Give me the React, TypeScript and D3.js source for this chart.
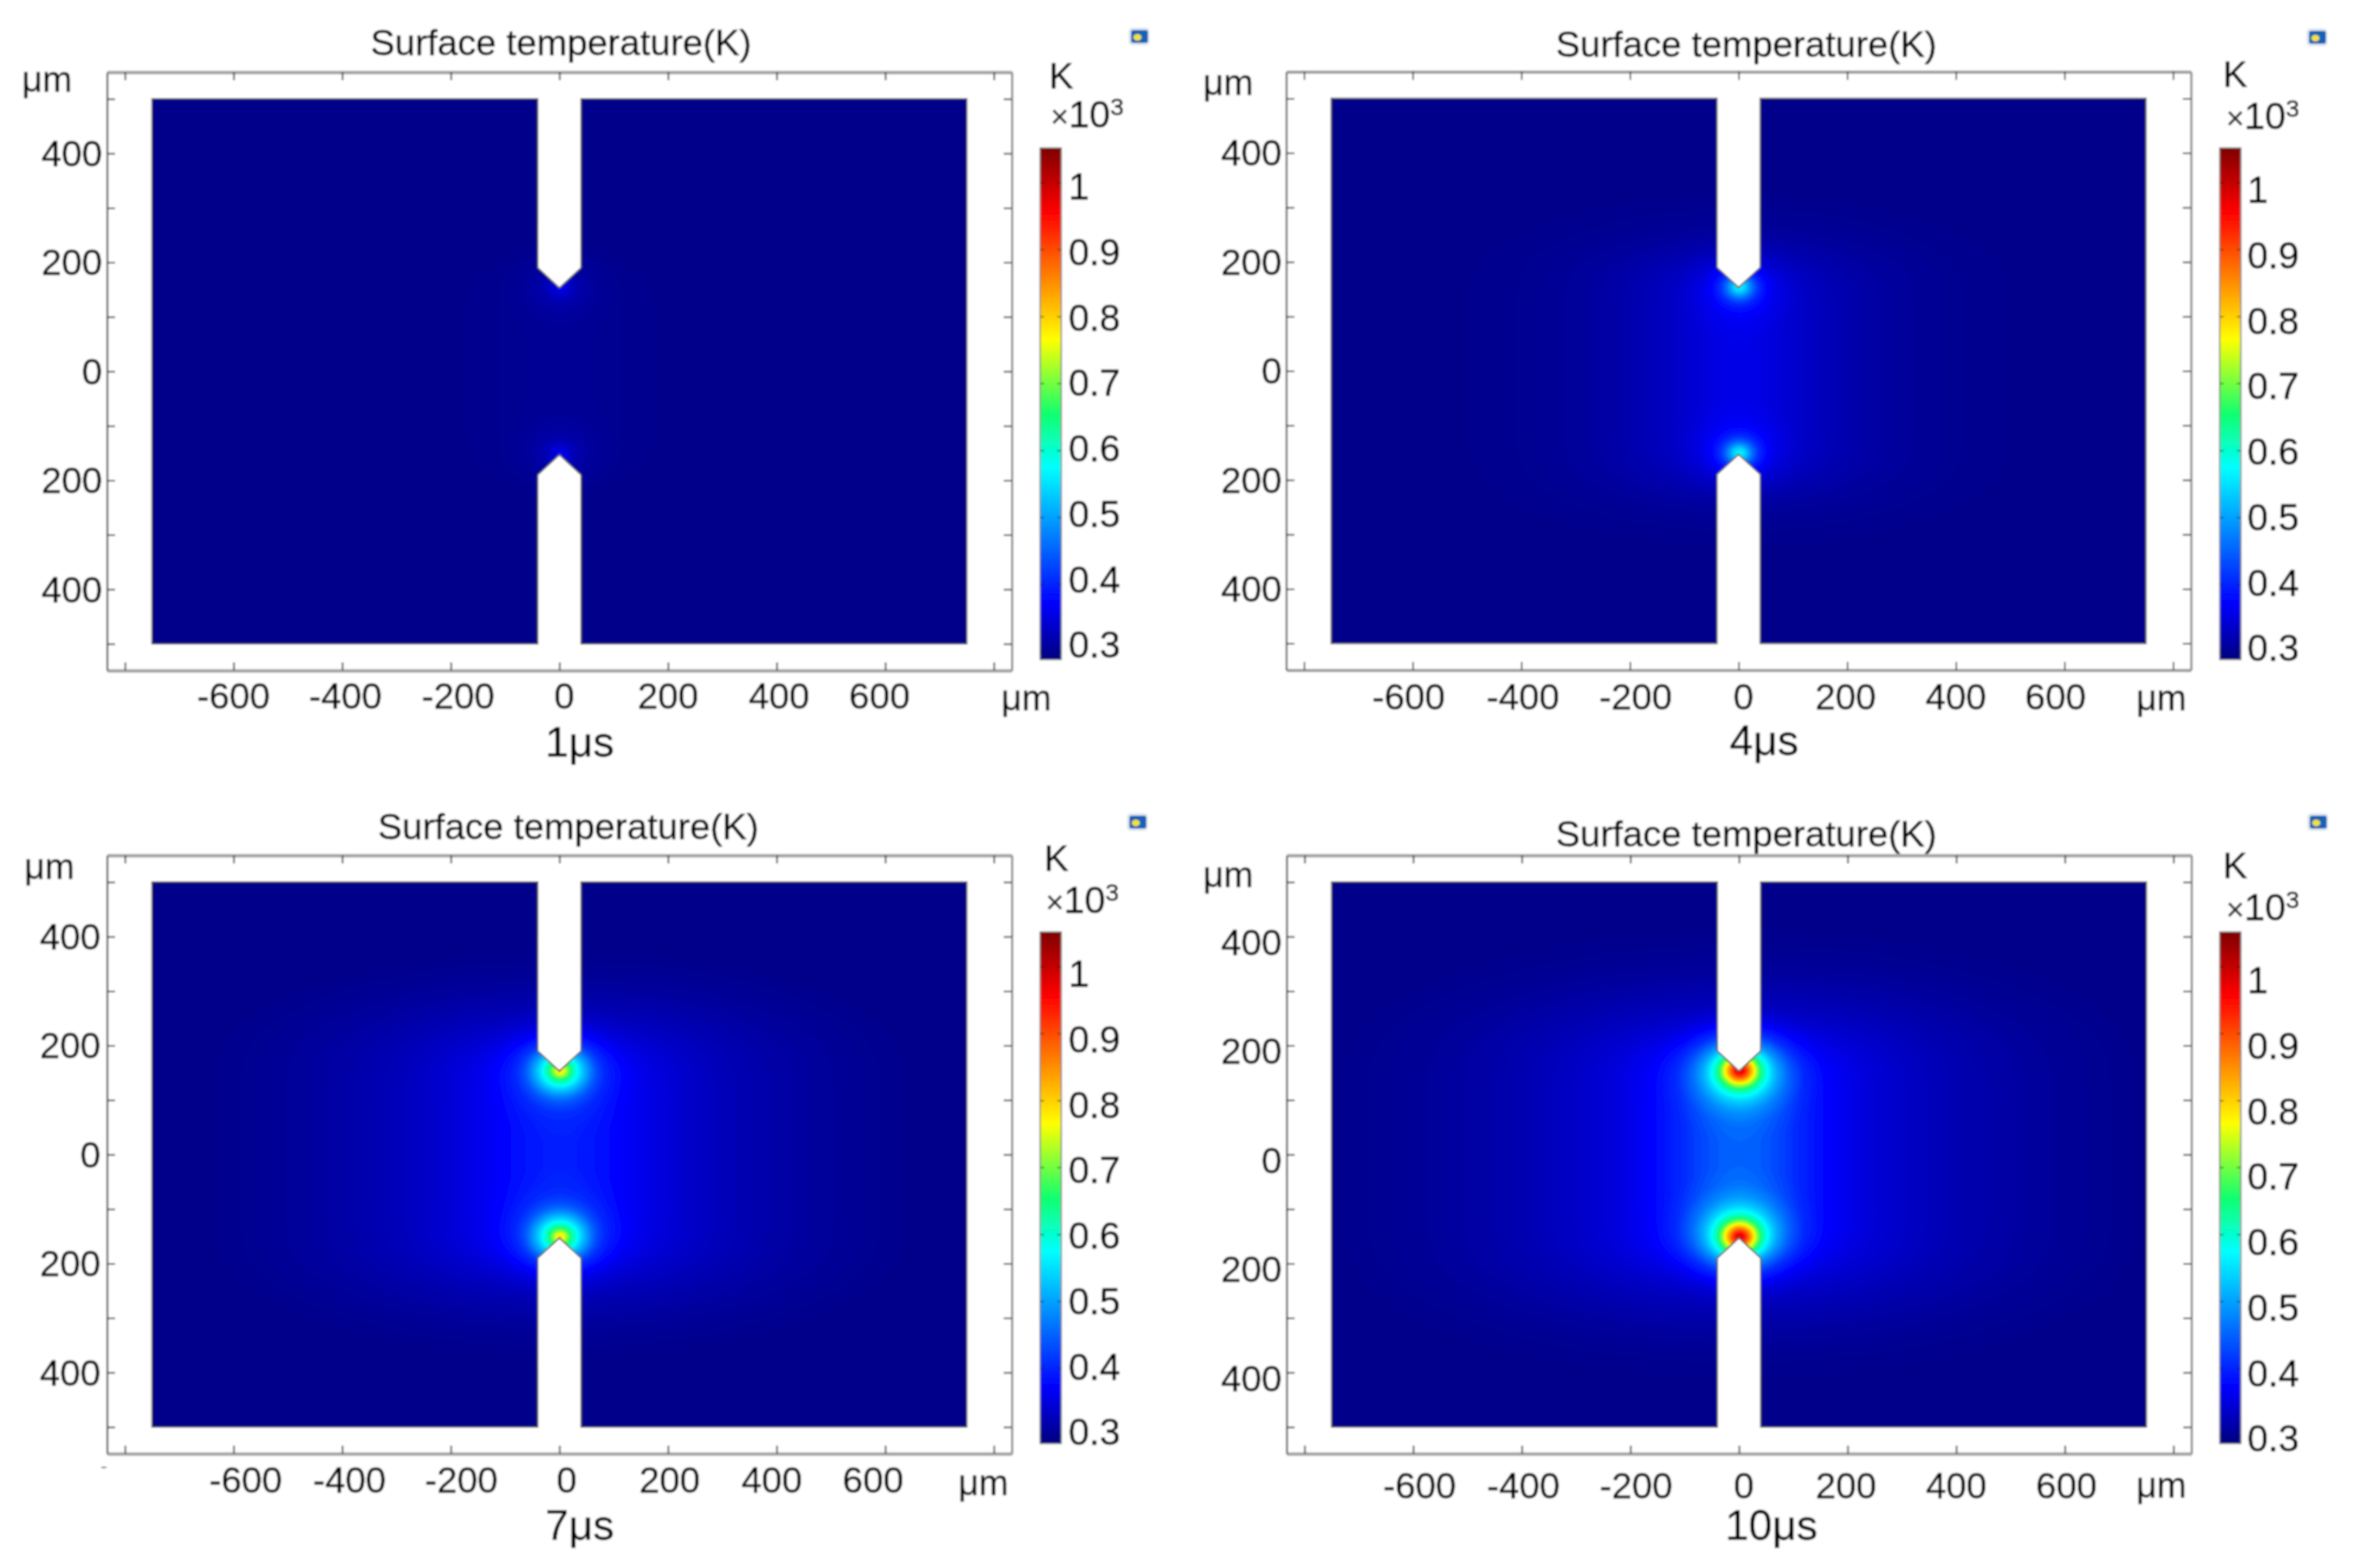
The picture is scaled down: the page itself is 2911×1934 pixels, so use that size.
import { useEffect, useMemo, useRef } from "react"
import * as d3 from "d3"

// everything in um / K x10^3
const captions = ["1μs", "4μs", "7μs", "10μs"]
const xTicks = [-800, -600, -400, -200, 0, 200, 400, 600, 800]
const yTicks = [-500, -400, -300, -200, -100, 0, 100, 200, 300, 400, 500]
const xLabels = [-600, -400, -200, 0, 200, 400, 600]
const yLabels = [400, 200, 0, -200, -400]
const barValues = [1, 0.9, 0.8, 0.7, 0.6, 0.5, 0.4, 0.3]
const barLabels = ["1", "0.9", "0.8", "0.7", "0.6", "0.5", "0.4", "0.3"]

// sample outline: plate with two notches
const plateX = [-750, -40, -40, 0, 40, 40, 750, 750, 40, 40, 0, -40, -40, -750]
const plateY = [500, 500, 190, 153, 190, 500, 500, -500, -500, -190, -153, -190, -500, -500]
const tipY = 153

// temperature along x=0 walking away from the notch tip
const tipDistance = [0, 5, 10, 15, 20, 30, 40, 55, 75, 100, 130]
const tip1us = [0.385, 0.365, 0.35, 0.34, 0.33, 0.32, 0.315, 0.31, 0.307, 0.305, 0.305]
const tip4us = [0.6, 0.58, 0.55, 0.51, 0.47, 0.42, 0.39, 0.372, 0.365, 0.36, 0.36]
const tip7us = [0.86, 0.8, 0.74, 0.68, 0.635, 0.57, 0.52, 0.455, 0.42, 0.405, 0.4]
const tip10us = [1.05, 1.0, 0.95, 0.89, 0.83, 0.7, 0.62, 0.55, 0.5, 0.47, 0.46]

// temperature along y=0 walking away from the centre line
const sideDistance = [0, 30, 60, 95, 135, 210, 285, 400, 600, 750]
const side1us = [0.305, 0.304, 0.303, 0.302, 0.3, 0.298, 0.297, 0.297, 0.296, 0.296]
const side4us = [0.36, 0.358, 0.352, 0.343, 0.333, 0.318, 0.31, 0.301, 0.297, 0.296]
const side7us = [0.4, 0.397, 0.39, 0.377, 0.365, 0.345, 0.33, 0.315, 0.3, 0.296]
const side10us = [0.46, 0.455, 0.44, 0.42, 0.385, 0.355, 0.34, 0.322, 0.305, 0.298]

const tipProfiles = [tip1us, tip4us, tip7us, tip10us]
const sideProfiles = [side1us, side4us, side7us, side10us]

// colour bar stops
const barStops = [0.289, 0.373, 0.575, 0.655, 0.766, 0.957, 1.052]
const barColors = ["#00007f", "#0000ff", "#00ffff", "#10ff70", "#ffff00", "#ff0000", "#7f0000"]

const W = 2911
const H = 1934
const FONT = "'Liberation Sans', Arial, sans-serif"

// where each of the four panels sits on the page
const layout = [
  { cx: 690, cy: 458, titleX: 692, titleY: 52, capX: 715, capY: 915, yLabelX: 126, yLabelDy: 0, xLabelY: 858,
    xNudge: [0, 4, 9, 6, 0, 3, -7], umBottom: [1266, 861], umTop: [58, 98], k: [1294, 93], mult: [1296, 141],
    barX: 1283, barY: 182.5, barLabelX: 1318, barLabelY: 230, icon: [1405, 45] },
  { cx: 2144.5, cy: 457.5, titleX: 2154, titleY: 54, capX: 2176, capY: 913, yLabelX: 1581, yLabelDy: 0, xLabelY: 859,
    xNudge: [-5, 2, 7, 6, -2, 0, -11], umBottom: [2666, 861], umTop: [1515, 102], k: [2742, 91], mult: [2746, 143],
    barX: 2738, barY: 182.5, barLabelX: 2772, barLabelY: 234, icon: [2858, 46] },
  { cx: 690, cy: 1424, titleX: 701, titleY: 1019, capX: 715, capY: 1881, yLabelX: 124, yLabelDy: 0, xLabelY: 1825,
    xNudge: [15, 9, 13, 9, 2, -6, -15], umBottom: [1213, 1829], umTop: [61, 1069], k: [1288, 1058], mult: [1290, 1110],
    barX: 1283, barY: 1149.5, barLabelX: 1318, barLabelY: 1201, icon: [1403, 1014] },
  { cx: 2145, cy: 1424, titleX: 2154, titleY: 1028, capX: 2185, capY: 1881, yLabelX: 1581, yLabelDy: 7, xLabelY: 1832,
    xNudge: [8, 2, 7, 6, -2, 0, 2], umBottom: [2666, 1832], umTop: [1515, 1079], k: [2742, 1067], mult: [2746, 1119],
    barX: 2738, barY: 1149.5, barLabelX: 2772, barLabelY: 1209, icon: [2859, 1014] },
]

const colour = d3.scaleLinear<string>().domain(barStops).range(barColors).clamp(true)

const levels = [...d3.range(0.297, 0.4, 0.002), ...d3.range(0.4, 1.06, 0.008)]

function buildField(index: number) {
  const step = 3
  const x0 = -759
  const y0 = -504
  const nx = Math.ceil(1518 / step) + 1
  const ny = Math.ceil(1008 / step) + 1
  const mid = sideProfiles[index][0]
  const tip = d3.scaleLinear().domain(tipDistance).range(tipProfiles[index]).clamp(true)
  const side = d3.scaleLinear().domain(sideDistance).range(sideProfiles[index]).clamp(true)
  const glow = new Float64Array(nx * ny)
  const spots = new Float64Array(nx * ny)
  for (let j = 0; j < ny; j++) {
    const y = y0 + j * step
    const over = Math.max(0, Math.abs(y) - tipY)
    for (let i = 0; i < nx; i++) {
      const x = x0 + i * step
      glow[j * nx + i] = side(Math.hypot(x, over * 3))
      const upper = tip(Math.hypot(x / 1.2, y - tipY)) - mid
      const lower = tip(Math.hypot(x / 1.2, y + tipY)) - mid
      spots[j * nx + i] = upper + lower
    }
  }
  // takes the corners out of the piecewise tables, the spots need far less of it
  d3.blur2({ data: glow, width: nx, height: ny }, 8)
  d3.blur2({ data: spots, width: nx, height: ny }, 1)
  const values = glow.map((g, i) => g + spots[i])
  const max = d3.max(values) as number
  const contours = d3.contours().size([nx, ny]).thresholds(levels.filter(l => l < max))(values as unknown as number[])
  return { contours, step, x0, y0 }
}

function Panel({ index }: { index: number }) {
  const p = layout[index]
  const axesRef = useRef<SVGGElement>(null)

  const x = d3.scaleLinear().domain([-833, 833]).range([p.cx - 558, p.cx + 558])
  const y = d3.scaleLinear().domain([-549, 549]).range([p.cy + 369, p.cy - 369])
  const bar = d3.scaleLinear().domain([1.052, 0.288]).range([p.barY, p.barY + 631])
  // the labels of the bar are spaced a bit tighter than its ticks in the source
  const barText = d3.scaleLinear().domain([1, 0.3]).range([p.barLabelY, p.barLabelY + 7 * 80.76])

  const paths = useMemo(() => {
    const { contours, step, x0, y0 } = buildField(index)
    const path = d3.geoPath(d3.geoTransform({
      point(px, py) {
        this.stream.point(x(x0 + px * step), y(y0 + py * step))
      },
    }))
    return contours.map(c => ({ d: path(c) as string, fill: colour(c.value) }))
  }, [index])

  const outline = d3.line<number>().x(i => x(plateX[i])).y(i => y(plateY[i]))(d3.range(plateX.length)) + "Z"
  const clipId = `plate-${index}`

  useEffect(() => {
    if (!axesRef.current) return
    const g = d3.select(axesRef.current)
    g.selectAll("*").remove() // clear previous renders
    const top = y(549)
    const bottom = y(-549)
    const left = x(-833)
    const right = x(833)
    const style = (sel: any, domainColor: string, domainWidth: number) => {
      sel.select(".domain").attr("stroke", domainColor).attr("stroke-width", domainWidth)
      sel.selectAll(".tick line").attr("stroke", "#333").attr("stroke-width", 1.8)
      sel.selectAll("text").remove() // labels are placed by hand below
    }
    style(g.append("g").attr("transform", `translate(0,${bottom})`)
      .call(d3.axisBottom(x).tickValues(xTicks).tickSize(-10).tickSizeOuter(0)), "#a0a0a0", 4)
    style(g.append("g").attr("transform", `translate(0,${top})`)
      .call(d3.axisTop(x).tickValues(xTicks).tickSize(-10).tickSizeOuter(0)), "#a0a0a0", 4)
    style(g.append("g").attr("transform", `translate(${left},0)`)
      .call(d3.axisLeft(y).tickValues(yTicks).tickSize(-10).tickSizeOuter(0)), "#666", 2.4)
    style(g.append("g").attr("transform", `translate(${right},0)`)
      .call(d3.axisRight(y).tickValues(yTicks).tickSize(-10).tickSizeOuter(0)), "#909090", 2.8)
  }, [index])

  const gradId = `bar-${index}`
  return (
    <g fontFamily={FONT} fill="#000">
      <defs>
        <clipPath id={clipId}><path d={outline} /></clipPath>
        <linearGradient id={gradId} x1="0" y1="1" x2="0" y2="0">
          {barStops.map((s, i) => (
            <stop key={i} offset={(s - 0.289) / (1.052 - 0.289)} stopColor={barColors[i]} />
          ))}
        </linearGradient>
      </defs>

      <text x={p.titleX} y={p.titleY} dy=".35em" textAnchor="middle" fontSize={45} stroke="#000" strokeWidth={0.4}>Surface temperature(K)</text>
      <text x={p.capX} y={p.capY} dy=".35em" textAnchor="middle" fontSize={52} stroke="#000" strokeWidth={0.4}>{captions[index]}</text>

      <g clipPath={`url(#${clipId})`}>
        <rect x={x(-760)} y={y(510)} width={x(760) - x(-760)} height={y(-510) - y(510)} fill={colour(0.296)} />
        {paths.map((c, i) => <path key={i} d={c.d} fill={c.fill} />)}
      </g>
      <path d={outline} fill="none" stroke="#555" strokeWidth={1.8} />

      <g ref={axesRef} />

      <g stroke="#000" strokeWidth={0.4}>
        {yLabels.map(v => (
          <text key={v} x={p.yLabelX} y={y(v) + p.yLabelDy} dy=".35em" textAnchor="end" fontSize={45}>{Math.abs(v)}</text>
        ))}
        {xLabels.map((v, i) => (
          <text key={v} x={x(v) + p.xNudge[i]} y={p.xLabelY} dy=".35em" textAnchor="middle" fontSize={45}>{v}</text>
        ))}
        <text x={p.umBottom[0]} y={p.umBottom[1]} dy=".35em" textAnchor="middle" fontSize={44}>μm</text>
        <text x={p.umTop[0]} y={p.umTop[1]} dy=".35em" textAnchor="middle" fontSize={44}>μm</text>

        <text x={p.k[0]} y={p.k[1]} dy=".35em" fontSize={45}>K</text>
        <text x={p.mult[0]} y={p.mult[1]} dy=".35em" fontSize={46}>
          <tspan fontSize={38} fill="#333">×</tspan>
          <tspan>10</tspan>
          <tspan fontSize={30} dy={-15}>3</tspan>
        </text>
        {barLabels.map((t, i) => (
          <text key={t} x={p.barLabelX} y={barText(barValues[i])} dy=".35em" fontSize={46}>{t}</text>
        ))}
      </g>

      <rect x={p.barX} y={p.barY} width={26} height={631} fill={`url(#${gradId})`} stroke="#777" strokeWidth={1.5} />
      {barValues.map(v => (
        <g key={v} stroke="#222" strokeOpacity={0.6} strokeWidth={1.5}>
          <line x1={p.barX} x2={p.barX + 5} y1={bar(v)} y2={bar(v)} />
          <line x1={p.barX + 21} x2={p.barX + 26} y1={bar(v)} y2={bar(v)} />
        </g>
      ))}

      <g>
        <rect x={p.icon[0] - 13} y={p.icon[1] - 11} width={26} height={22} rx={5} fill="#dfe6ee" />
        <rect x={p.icon[0] - 10} y={p.icon[1] - 8} width={21} height={16} rx={3} fill="#1562b8" />
        <ellipse cx={p.icon[0] - 2} cy={p.icon[1] + 1} rx={5} ry={4} fill="#f2e23a" />
      </g>
    </g>
  )
}

export default function App() {
  return (
    <svg width={W} height={H} viewBox={`0 0 ${W} ${H}`} xmlns="http://www.w3.org/2000/svg"
      style={{ position: "absolute", left: 0, top: 0, display: "block", background: "#fff" }}>
      <defs>
        <filter id="soft" x="0" y="0" width="100%" height="100%">
          <feGaussianBlur stdDeviation={0.8} />
        </filter>
      </defs>
      <g filter="url(#soft)">
        <rect width={W} height={H} fill="#fff" />
        {layout.map((_, i) => <Panel key={i} index={i} />)}
        <text x={128} y={1817} textAnchor="middle" fontSize={26} fill="#777" fontFamily={FONT}>-</text>
      </g>
    </svg>
  )
}
